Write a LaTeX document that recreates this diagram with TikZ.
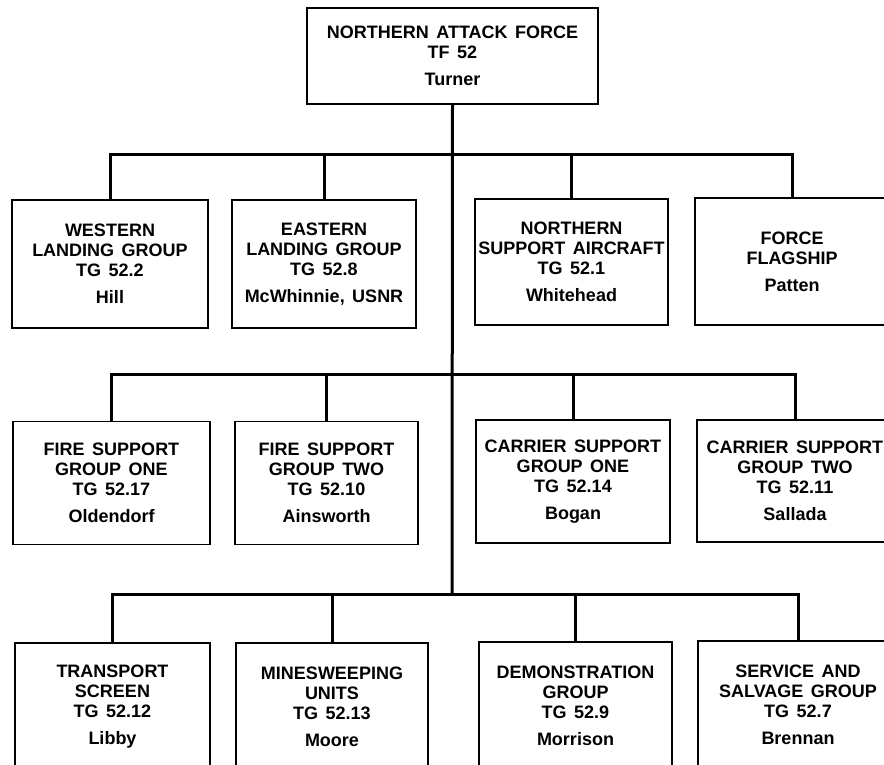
\documentclass[tikz,border=0pt]{standalone}
\usepackage{fontspec}
\setmainfont[WordSpace=1.5]{Liberation Sans}

\begin{document}
\begin{tikzpicture}[
  x=1pt,
  y=-1pt,
  unit/.style={draw=black, line width=1.8pt, fill=white, align=center, inner sep=2pt, font=\bfseries\fontsize{18}{20}\selectfont},
  wide/.style={unit, minimum width=194pt, minimum height=127pt},
  link/.style={black, line width=3pt}
]
\useasboundingbox (0,0) rectangle (884,765);
\clip (0,0) rectangle (884,765);

\node[unit, minimum width=291pt, minimum height=96pt] (naf) at (452.5,56) {NORTHERN ATTACK FORCE\\TF 52\\[7pt]Turner};

\node[wide, minimum width=196pt, minimum height=128pt] (wlg) at (110,264) {WESTERN\\LANDING GROUP\\TG 52.2\\[7pt]Hill};
\node[wide, minimum width=184pt, minimum height=128pt] (elg) at (324,264) {EASTERN\\LANDING GROUP\\TG 52.8\\[7pt]McWhinnie, USNR};
\node[wide, minimum width=193pt, minimum height=126pt] (nsa) at (571.5,262) {NORTHERN\\SUPPORT AIRCRAFT\\TG 52.1\\[7pt]Whitehead};
\node[wide, minimum height=127pt] (ffs) at (792,261.5) {FORCE\\FLAGSHIP\\[7pt]Patten};

\node[wide, minimum width=197pt, minimum height=123pt] (fs1) at (111.5,483) {FIRE SUPPORT\\GROUP ONE\\TG 52.17\\[7pt]Oldendorf};
\node[wide, minimum width=183pt, minimum height=123pt] (fs2) at (326.5,483) {FIRE SUPPORT\\GROUP TWO\\TG 52.10\\[7pt]Ainsworth};
\node[wide, minimum height=123pt] (cs1) at (573,481.5) {CARRIER SUPPORT\\GROUP ONE\\TG 52.14\\[7pt]Bogan};
\node[wide, minimum width=196pt, minimum height=122pt] (cs2) at (795,481) {CARRIER SUPPORT\\GROUP TWO\\TG 52.11\\[7pt]Sallada};

\node[wide, minimum width=195pt, minimum height=128pt] (tsc) at (112.5,707) {TRANSPORT\\SCREEN\\TG 52.12\\[7pt]Libby};
\node[wide, minimum width=192pt, minimum height=128pt] (msu) at (332,707) {MINESWEEPING\\UNITS\\TG 52.13\\[7pt]Moore};
\node[wide, minimum width=193pt, minimum height=128pt] (dmg) at (575.5,706) {DEMONSTRATION\\GROUP\\TG 52.9\\[7pt]Morrison};
\node[wide, minimum width=200pt, minimum height=128pt] (ssg) at (798,705) {SERVICE AND\\SALVAGE GROUP\\TG 52.7\\[7pt]Brennan};

\coordinate (bus1) at (452,155);
\coordinate (bus2) at (452,374);
\coordinate (bus3) at (452,594);

\draw[link] (naf.south) -- (bus3);

\draw[link] (wlg.north) -- (wlg.north |- bus1) -- (ffs.north |- bus1) -- (ffs.north);
\draw[link] (elg.north) -- (elg.north |- bus1);
\draw[link] (nsa.north) -- (nsa.north |- bus1);

\draw[link] (fs1.north) -- (fs1.north |- bus2) -- (cs2.north |- bus2) -- (cs2.north);
\draw[link] (fs2.north) -- (fs2.north |- bus2);
\draw[link] (cs1.north) -- (cs1.north |- bus2);

\draw[link] (tsc.north) -- (tsc.north |- bus3) -- (ssg.north |- bus3) -- (ssg.north);
\draw[link] (msu.north) -- (msu.north |- bus3);
\draw[link] (dmg.north) -- (dmg.north |- bus3);
\end{tikzpicture}
\end{document}
